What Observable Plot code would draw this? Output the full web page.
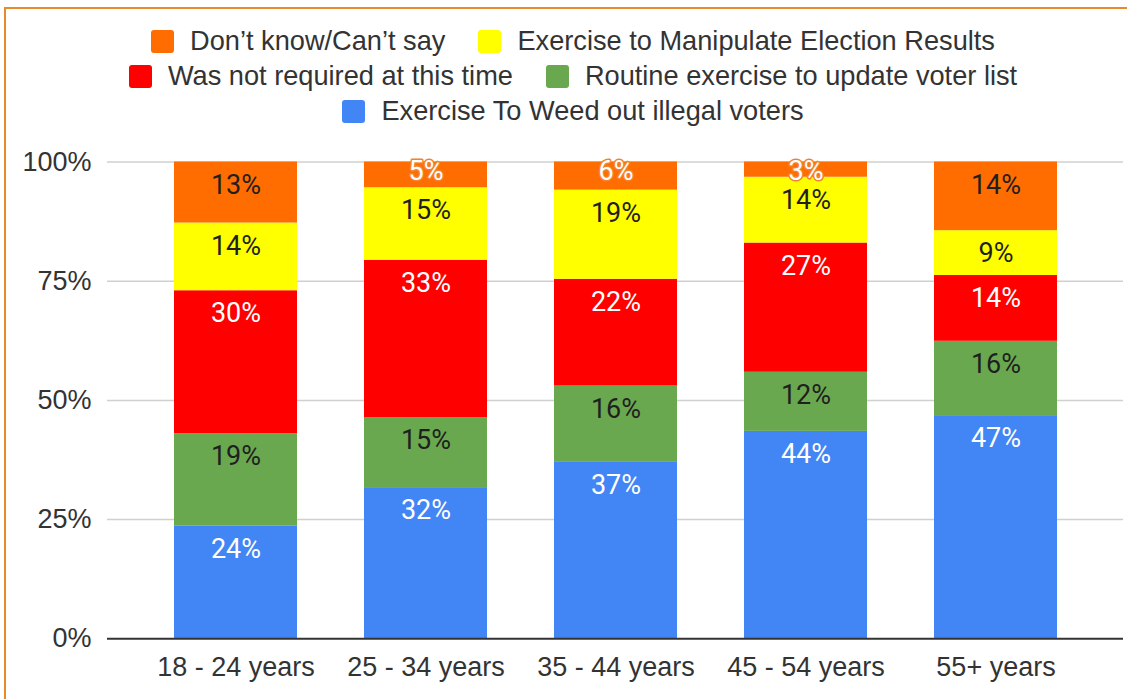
<!DOCTYPE html>
<html><head><meta charset="utf-8">
<script src="https://cdn.jsdelivr.net/npm/d3@7"></script>
<script src="https://cdn.jsdelivr.net/npm/@observablehq/plot@0.6"></script>
<style>
body{margin:0;background:#fff;font-family:"Liberation Sans",Arial,sans-serif;}
#wrap{position:relative;width:1127px;height:699px;overflow:hidden;background:#fff;}
#frame{position:absolute;left:4px;top:7px;width:1300px;height:900px;border-top:2px solid #e98a2a;border-left:2px solid #e98a2a;pointer-events:none;}
#legend{position:relative;padding-top:23.5px;height:104.5px;box-sizing:content-box;padding-left:19px;}
.row{display:flex;justify-content:center;align-items:center;height:35px;}
.item{display:flex;align-items:center;margin:0 16.5px;font-size:27.2px;color:#333;white-space:nowrap;}
.sw{width:23px;height:23px;border-radius:3px;margin-right:16px;flex:none;}
#chart svg{display:block;}
</style></head>
<body>
<div id="wrap">
  <div id="legend"></div>
  <div id="chart"></div>
  <div id="frame"></div>
</div>
<script>
// Categories (x axis)
const ages = ["18 - 24 years", "25 - 34 years", "35 - 44 years", "45 - 54 years", "55+ years"];
// Series, bottom to top of each stack
const series = [
  "Exercise To Weed out illegal voters",
  "Routine exercise to update voter list",
  "Was not required at this time",
  "Exercise to Manipulate Election Results",
  "Don’t know/Can’t say"
];
const colors = ["#4285f4", "#6aa84f", "#ff0000", "#ffff00", "#ff6d01"];
// Values (% share) per series, one per age group
const weedOut     = [23.6, 31.7, 37.0, 43.5, 46.8];
const routine     = [19.4, 14.7, 16.0, 12.4, 15.6];
const notRequired = [30.0, 33.0, 22.4, 27.1, 13.8];
const manipulate  = [14.2, 15.2, 18.7, 13.8, 9.4];
const dontKnow    = [12.8, 5.4, 5.9, 3.2, 14.4];
const yTicks = [0, 25, 50, 75, 100];

const valuesBySeries = [weedOut, routine, notRequired, manipulate, dontKnow];
const whiteLabelSeries = new Set([series[0], series[2]]);

const data = [];
ages.forEach((a, i) => series.forEach((s, j) => data.push({age: a, series: s, value: valuesBySeries[j][i]})));

// Legend (HTML), rows as in the reference
const legendRows = [[4, 3], [2, 1], [0]];
const legend = document.getElementById("legend");
legendRows.forEach(r => {
  const row = document.createElement("div");
  row.className = "row";
  r.forEach(j => {
    const it = document.createElement("div");
    it.className = "item";
    const sw = document.createElement("span");
    sw.className = "sw";
    sw.style.background = colors[j];
    const tx = document.createElement("span");
    tx.textContent = series[j];
    it.appendChild(sw); it.appendChild(tx);
    row.appendChild(it);
  });
  legend.appendChild(row);
});

const lbl = d => Math.round(d.value) + "%";
const small = d => d.value < 8;
const textBase = {x: "age", y: "value", z: "series", fontSize: 27, fontFamily: "Roboto", order: null};

const chart = Plot.plot({
  width: 1127,
  height: 571,
  marginLeft: 107,
  marginRight: 4,
  marginTop: 33.5,
  marginBottom: 60.7,
  style: {fontFamily: "'Liberation Sans', Arial, sans-serif", fontSize: "27px", color: "#333", background: "transparent"},
  x: {domain: ages, paddingInner: 0.353, paddingOuter: 0.35, align: 0.5, label: null},
  y: {domain: [0, 100], label: null},
  color: {domain: series, range: colors},
  marks: [
    Plot.ruleY([25, 50, 75, 100], {stroke: "#d0d0d0", strokeWidth: 1.5}),
    Plot.barY(data, {x: "age", y: "value", fill: "series", order: null}),
    Plot.ruleY([0], {stroke: "#333", strokeWidth: 2}),
    Plot.axisY({ticks: yTicks, tickFormat: d => d + "%", tickSize: 0, tickPadding: 16, fontSize: 27, label: null}),
    Plot.axisX({tickSize: 0, tickPadding: 18, fontSize: 27, label: null}),
    Plot.text(data, Plot.stackY2({...textBase, text: d => (!small(d) && whiteLabelSeries.has(d.series)) ? lbl(d) : "", fill: "white", dy: 23})),
    Plot.text(data, Plot.stackY2({...textBase, text: d => (!small(d) && !whiteLabelSeries.has(d.series)) ? lbl(d) : "", fill: "#1f1f1f", dy: 23})),
    Plot.text(data, Plot.stackY2({...textBase, text: d => small(d) ? lbl(d) : "", fill: "white", stroke: "#f5822a", strokeWidth: 3, paintOrder: "stroke", dy: 9}))
  ]
});
document.getElementById("chart").appendChild(chart);
</script>
</body></html>
